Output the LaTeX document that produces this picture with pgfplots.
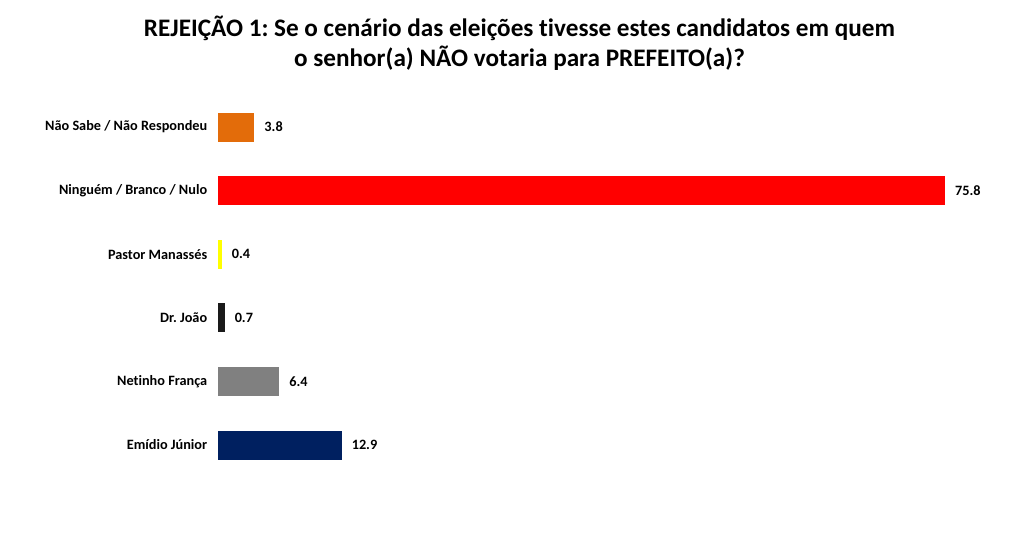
\documentclass[border=0pt]{standalone}
\usepackage{pgfplots}
\pgfplotsset{compat=1.18}
\usepackage{fontspec}
\setmainfont[Ligatures=CommonOff]{Carlito}
\frenchspacing
\definecolor{corange}{RGB}{227,108,10}
\definecolor{cred}{RGB}{255,0,0}
\definecolor{cyellow}{RGB}{255,255,0}
\definecolor{cblack}{RGB}{26,26,26}
\definecolor{cgray}{RGB}{128,128,128}
\definecolor{cnavy}{RGB}{0,32,96}
\begin{document}
\begin{tikzpicture}
\useasboundingbox (0,0) rectangle (768pt,410.25pt);
\node[align=center,font=\bfseries\fontsize{18.9}{22.8}\selectfont] at (389.6pt,378pt)
  {REJEIÇÃO 1: Se o cenário das eleições tivesse estes candidatos em quem\\o senhor(a) NÃO votaria para PREFEITO(a)?};
\begin{axis}[
  at={(163.5pt,52.65pt)}, anchor=south west,
  scale only axis, width=545.25pt, height=286.2pt,
  xmin=0, xmax=75.8, ymin=-0.5, ymax=5.5,
  xbar, bar width=21.75pt, bar shift=0pt,
  axis line style={draw=none}, tick style={draw=none},
  xtick=\empty,
  ytick={0,1,2,3,4,5},
  yticklabels={Emídio Júnior,Netinho França,Dr. João,Pastor Manassés,Ninguém / Branco / Nulo,Não Sabe / Não Respondeu},
  yticklabel style={font=\bfseries\fontsize{10.7}{12.5}\selectfont, xshift=-0.3pt},
  nodes near coords,
  nodes near coords style={font=\bfseries\fontsize{10.7}{12.5}\selectfont, xshift=4pt,
     /pgf/number format/.cd, fixed, fixed zerofill, precision=1, assume math mode=true},
  clip=false,
]
\addplot[draw=none, fill=cnavy] coordinates {(12.9,0)};
\addplot[draw=none, fill=cgray] coordinates {(6.4,1)};
\addplot[draw=none, fill=cblack] coordinates {(0.7,2)};
\addplot[draw=none, fill=cyellow] coordinates {(0.4,3)};
\addplot[draw=none, fill=cred] coordinates {(75.8,4)};
\addplot[draw=none, fill=corange] coordinates {(3.8,5)};
\end{axis}
\end{tikzpicture}
\end{document}
